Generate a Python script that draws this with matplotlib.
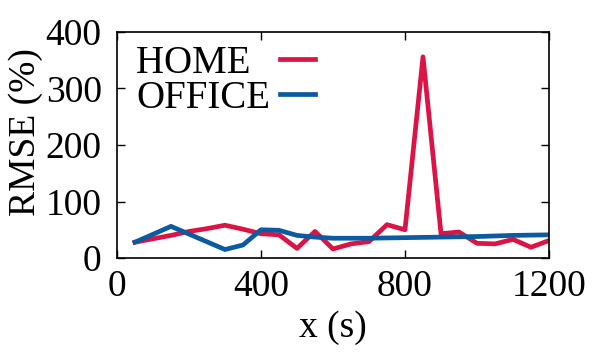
import matplotlib
matplotlib.use("Agg")
import matplotlib.pyplot as plt

# time points (s)
x_home = [50, 150, 200, 250, 300, 350, 400, 450, 500, 550, 600, 650, 700, 750,
          800, 850, 900, 950, 1000, 1050, 1100, 1150, 1200]
home = [28, 40, 47, 52, 58, 51, 43, 41, 17, 47, 16, 25, 29, 59,
        50, 356, 43, 46, 26, 25, 33, 19, 31]

x_office = [50, 150, 300, 350, 400, 450, 500, 550, 600, 700, 800, 900, 1000, 1100, 1200]
office = [28, 56, 15, 23, 50, 49, 40, 37, 35, 35, 36, 37, 38, 40, 41]

plt.rcParams['font.family'] = ['Liberation Serif', 'DejaVu Serif']
plt.rcParams['font.size'] = 27

fig = plt.figure(figsize=(5.98, 3.59), dpi=100)
ax = fig.add_axes([117 / 598, 1 - 258 / 359, 432 / 598, 226 / 359])

ax.plot(x_home, home, color='#DC1446', lw=3.4, label='HOME  ')
ax.plot(x_office, office, color='#0C5AA0', lw=3.4, label='OFFICE')

ax.set_xlim(0, 1200)
ax.set_ylim(0, 400)
ax.set_xticks([0, 400, 800, 1200])
ax.set_yticks([0, 100, 200, 300, 400])
ax.tick_params(direction='in', length=6, width=1, top=True, right=True)
ax.tick_params(axis='x', pad=8)
ax.tick_params(axis='y', pad=11)
for s in ax.spines.values():
    s.set_linewidth(1.2)

ax.set_xlabel('x (s)', labelpad=5)
ax.set_ylabel('RMSE (%)')
ax.yaxis.set_label_coords(-0.172, 0.557)

ax.legend(loc='upper left', bbox_to_anchor=(0.009, 1.013), frameon=False,
          markerfirst=False, handlelength=0.9, handletextpad=0.25,
          borderaxespad=0.2, labelspacing=-0.05, borderpad=0.2, fontsize=28)

fig.savefig('out.png', dpi=100)
